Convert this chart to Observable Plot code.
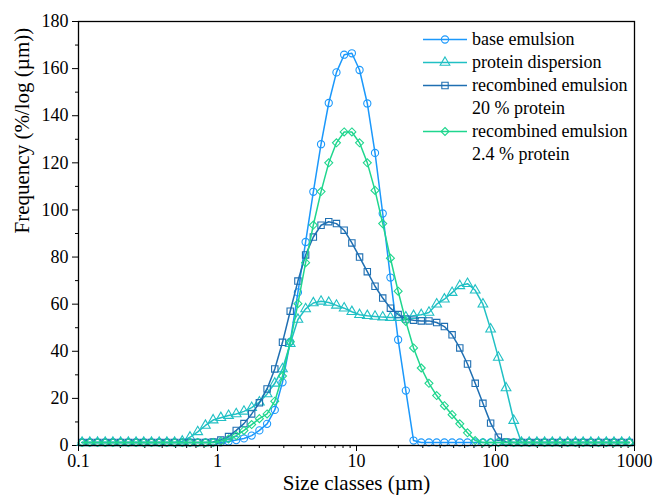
<!DOCTYPE html>
<html>
<head>
<meta charset="utf-8">
<script src="https://cdn.jsdelivr.net/npm/d3@7"></script>
<script src="https://cdn.jsdelivr.net/npm/@observablehq/plot@0.6"></script>
</head>
<body style="margin:0;padding:0;background:#fff">
<div id="wrap" style="position:relative;width:656px;height:500px;font-family:'Liberation Serif'"><div id="legend" style="position:absolute;left:422px;top:28px;font-size:18px;color:#000;font-family:'Liberation Serif'"></div></div>
<script>
// Size classes (µm) — geometric centres of the instrument bins
const sizes = [0.1061, 0.1206, 0.1370, 0.1556, 0.1768, 0.2009, 0.2283, 0.2594, 0.2947, 0.3349,
  0.3805, 0.4323, 0.4912, 0.5581, 0.6341, 0.7205, 0.8186, 0.9301, 1.057, 1.201,
  1.364, 1.550, 1.761, 2.001, 2.274, 2.583, 2.935, 3.335, 3.789, 4.305,
  4.892, 5.558, 6.315, 7.175, 8.152, 9.263, 10.52, 11.96, 13.59, 15.44,
  17.54, 19.93, 22.64, 25.73, 29.23, 33.21, 37.74, 42.88, 48.72, 55.35,
  62.89, 71.46, 81.19, 92.25, 104.8, 119.1, 135.3, 153.7, 174.7, 198.5,
  225.5, 256.2, 291.1, 330.8, 375.8, 427.0, 485.2, 551.3, 626.4, 711.7,
  808.6, 918.8];

const baseEmulsion = [1.3, 1.3, 1.3, 1.3, 1.3, 1.3, 1.3, 1.3, 1.3, 1.3,
  1.3, 1.3, 1.3, 1.3, 1.3, 1.3, 1.3, 1.3, 1.3, 1.7,
  2.3, 3.0, 4.2, 6.4, 9.2, 15.1, 26.8, 44, 65, 86.4,
  107.7, 127.9, 145.4, 158.4, 165.9, 166.5, 159.4, 145.2, 124.2, 98.5,
  71.3, 44.9, 23.3, 2.1, 1.3, 1.3, 1.3, 1.3, 1.3, 1.3,
  1.3, 1.3, 1.3, 1.3, 1.3, 1.3, 1.3, 1.3, 1.3, 1.3,
  1.3, 1.3, 1.3, 1.3, 1.3, 1.3, 1.3, 1.3, 1.3, 1.3,
  1.3, 1.3];

const proteinDispersion = [1.3, 1.3, 1.3, 1.3, 1.3, 1.3, 1.3, 1.3, 1.3, 1.3,
  1.3, 1.3, 1.3, 1.8, 3.5, 5.8, 8.5, 10.8, 11.8, 12.7,
  13.4, 14.5, 16.1, 18.4, 21.9, 26.4, 32.5, 43.2, 53.5, 58,
  60.5, 61.2, 60.7, 59.5, 58.3, 56.8, 55.5, 55.1, 54.8, 54.5,
  54.3, 54.3, 54.5, 55.1, 55.5, 56.5, 60.0, 62.1, 64.9, 67.8,
  68.7, 65.9, 60.0, 49.4, 37.4, 24.4, 10.6, 1.3, 1.3, 1.3,
  1.3, 1.3, 1.3, 1.3, 1.3, 1.3, 1.3, 1.3, 1.3, 1.3,
  1.3, 1.3];

const recombined20 = [1.3, 1.3, 1.3, 1.3, 1.3, 1.3, 1.3, 1.3, 1.3, 1.3,
  1.3, 1.3, 1.3, 1.3, 1.3, 1.3, 1.3, 1.5, 2.3, 3.8,
  6.4, 9.3, 13.4, 18.1, 24.0, 32.5, 43.8, 57.0, 69.8, 80.9,
  88.5, 93.5, 95.0, 94.2, 91.4, 86.0, 80.0, 73.8, 67.6, 62.6,
  58.3, 55.6, 53.7, 53.2, 52.9, 52.9, 52.2, 50.5, 47.0, 41.4,
  34.6, 26.4, 17.9, 9.5, 3.5, 1.5, 1.3, 1.3, 1.3, 1.3,
  1.3, 1.3, 1.3, 1.3, 1.3, 1.3, 1.3, 1.3, 1.3, 1.3,
  1.3, 1.3];

const recombined24 = [1.3, 1.3, 1.3, 1.3, 1.3, 1.3, 1.3, 1.3, 1.3, 1.3,
  1.3, 1.3, 1.3, 1.3, 1.3, 1.3, 1.3, 1.3, 1.8, 2.8,
  4.2, 6.4, 8.9, 11.4, 13.4, 18.8, 29.5, 44, 60.2, 77.6,
  93.6, 107.8, 120, 128.5, 133.1, 133.1, 128.5, 120, 108.3, 94.2,
  79.5, 65.5, 52.7, 41.4, 32.9, 26.4, 21.2, 16.9, 13.1, 9.2,
  5.4, 2.1, 1.3, 1.3, 1.3, 1.3, 1.3, 1.3, 1.3, 1.3,
  1.3, 1.3, 1.3, 1.3, 1.3, 1.3, 1.3, 1.3, 1.3, 1.3,
  1.3, 1.3];

const seriesNames = ["base emulsion", "protein dispersion", "recombined emulsion\n20 % protein", "recombined emulsion\n2.4 % protein"];
const seriesColors = ["#1b98fb", "#20c0c4", "#1f6fb2", "#1fd68e"];
const seriesSymbols = ["circle", "triangle", "square", "diamond2"];
const seriesValues = [baseEmulsion, proteinDispersion, recombined20, recombined24];

const xMajorTicks = [0.1, 1, 10, 100, 1000];
const xMinorTicks = [0.2,0.3,0.4,0.5,0.6,0.7,0.8,0.9, 2,3,4,5,6,7,8,9, 20,30,40,50,60,70,80,90, 200,300,400,500,600,700,800,900];
const yMajorTicks = [0, 20, 40, 60, 80, 100, 120, 140, 160, 180];
const yMinorTicks = [10, 30, 50, 70, 90, 110, 130, 150, 170];
const xTitle = "Size classes (µm)";
const yTitle = "Frequency (%/log (µm))";

const serif = "Liberation Serif";
const forceSerif = el => {
  el.setAttribute("font-family", serif);
  el.style.setProperty("font-family", "'Liberation Serif'", "important");
};
const seriesData = seriesValues.map(vals => sizes.map((x, i) => ({x, y: vals[i]})));

const marks = [
  Plot.axisX({ticks: xMinorTicks, tickSize: 3, tickFormat: () => "", label: null}),
  Plot.axisX({ticks: xMajorTicks, tickSize: 6, tickPadding: 3, tickFormat: d => String(d), label: null}),
  Plot.axisY({ticks: yMinorTicks, tickSize: 3, tickFormat: () => "", label: null}),
  Plot.axisY({ticks: yMajorTicks, tickSize: 6, tickPadding: 4, tickFormat: d => String(d), label: null}),
];
seriesData.forEach((data, k) => {
  marks.push(Plot.line(data, {x: "x", y: "y", stroke: seriesColors[k], strokeWidth: 1.5}));
  marks.push(Plot.dot(data, {x: "x", y: "y", stroke: seriesColors[k], fill: "none", symbol: seriesSymbols[k], r: 3.6, strokeWidth: 1.1}));
});
marks.push(Plot.frame({stroke: "black", strokeWidth: 1.3}));
marks.push(Plot.text([xTitle], {text: d => d, frameAnchor: "bottom", dy: 44, fontSize: 21}));
marks.push(Plot.text([yTitle], {text: d => d, frameAnchor: "left", dx: -56, rotate: -90, fontSize: 21}));

const chart = Plot.plot({
  width: 656,
  height: 500,
  marginLeft: 78,
  marginRight: 22,
  marginTop: 21,
  marginBottom: 55,
  x: {type: "log", domain: [0.1, 1000]},
  y: {domain: [0, 180]},
  style: {fontFamily: serif, fontSize: "18px", color: "black", background: "white"},
  marks
});
forceSerif(chart);
chart.querySelectorAll("text, tspan, g").forEach(forceSerif);
const wrap = document.getElementById("wrap");
wrap.insertBefore(chart, wrap.firstChild);

// Legend
const legend = document.getElementById("legend");
forceSerif(legend);
const symbolTypes = {circle: d3.symbolCircle, triangle: d3.symbolTriangle, square: d3.symbolSquare, diamond2: d3.symbolDiamond2};
seriesNames.forEach((name, k) => {
  const lines = name.split("\n");
  lines.forEach((t, j) => {
    const row = document.createElement("div");
    row.style.cssText = "display:flex;align-items:center;height:23px;white-space:nowrap;" + (j > 0 ? "padding-left:50px;" : "");
    if (j === 0) {
      const sym = d3.symbol(symbolTypes[seriesSymbols[k]], Math.PI * 3.6 * 3.6)();
      row.innerHTML = `<svg width="46" height="23" style="flex:none;margin-right:4px"><line x1="1" x2="45" y1="11.5" y2="11.5" stroke="${seriesColors[k]}" stroke-width="1.5"/><path d="${sym}" transform="translate(23,11.5)" fill="none" stroke="${seriesColors[k]}" stroke-width="1.1"/></svg>`;
    }
    const span = document.createElement("span");
    forceSerif(span);
    span.textContent = t;
    row.appendChild(span);
    legend.appendChild(row);
  });
});
</script>
</body>
</html>
